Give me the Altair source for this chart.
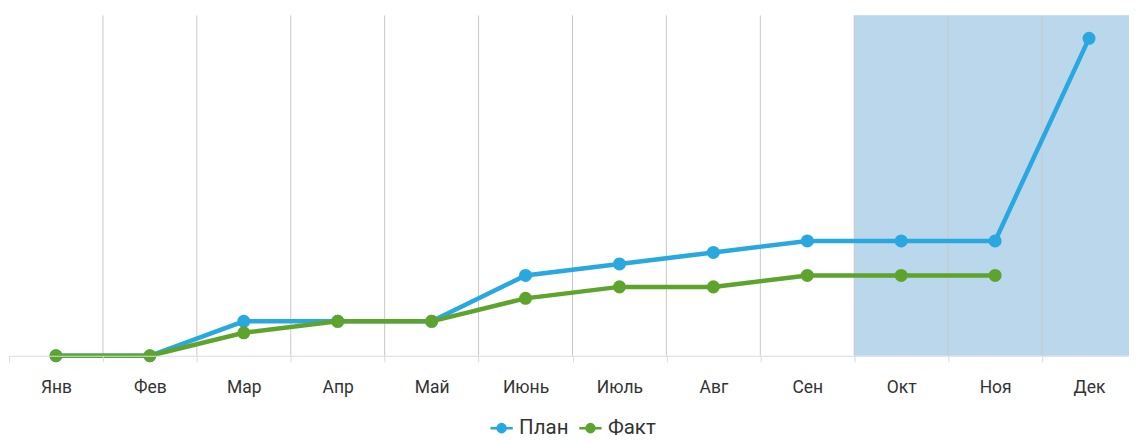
import altair as alt
import pandas as pd

months = ["Янв", "Фев", "Мар", "Апр", "Май", "Июнь", "Июль", "Авг", "Сен", "Окт", "Ноя", "Дек"]
plan = [0, 0, 3, 3, 3, 7, 8, 9, 10, 10, 10, 27.65]
fact = [0, 0, 2, 3, 3, 5, 6, 6, 7, 7, 7, None]
highlight_months = ["Окт", "Ноя", "Дек"]
series_names = ["План", "Факт"]
series_colors = ["#29A8E0", "#5EA42C"]

rows = []
for m, p, f in zip(months, plan, fact):
    rows.append({"month": m, "series": "План", "value": p})
    if f is not None:
        rows.append({"month": m, "series": "Факт", "value": f})
df = pd.DataFrame(rows)

W, H = 1129, 341
xscale = alt.Scale(domain=months, paddingInner=0, paddingOuter=0)
yscale = alt.Scale(domain=[0, 29.65], nice=False, zero=True)
cscale = alt.Scale(domain=series_names, range=series_colors)

x_axis = alt.Axis(title=None, tickBand="extent", grid=False, domainColor="#D3DCE6",
                  tickColor="#D3DCE6", tickSize=6, labelFontSize=17.5, labelColor="#333333",
                  labelFont="Roboto", labelPadding=16.5, domainWidth=1, labelAngle=0)

legend = alt.Legend(title=None, orient="none", direction="horizontal", legendX=481, legendY=401,
                    symbolType="M-1,0L1,0M-0.36,0A0.36,0.36 0 1,0 0.36,0A0.36,0.36 0 1,0 -0.36,0",
                    symbolSize=500, symbolStrokeWidth=2.5, labelFontSize=20.5, labelFont="Roboto",
                    labelColor="#333333", columnPadding=5, labelOffset=5)

hl = alt.Chart(pd.DataFrame({"month": highlight_months})).mark_rect(color="#BBD7EB").encode(
    x=alt.X("month:N", scale=xscale, axis=x_axis, sort=months),
    y=alt.value(0), y2=alt.value(H),
)

grid = alt.Chart(pd.DataFrame({"month": months[1:]})).mark_rule(color="#C8C8C8", strokeWidth=1).encode(
    x=alt.X("month:N", scale=xscale, sort=months, bandPosition=0),
    y=alt.value(0), y2=alt.value(H),
)

lines = alt.Chart(df).mark_line(strokeWidth=4.5).encode(
    x=alt.X("month:N", scale=xscale, sort=months),
    y=alt.Y("value:Q", scale=yscale, axis=None),
    stroke=alt.Stroke("series:N", scale=cscale, legend=legend),
    detail="series:N",
)

points = alt.Chart(df).mark_point(filled=True, size=170, opacity=1, strokeWidth=0).encode(
    x=alt.X("month:N", scale=xscale, sort=months),
    y=alt.Y("value:Q", scale=yscale, axis=None),
    fill=alt.Fill("series:N", scale=cscale, legend=legend),
    stroke=alt.Stroke("series:N", scale=cscale, legend=legend),
)

chart = alt.layer(hl, grid, lines, points).properties(
    width=W, height=H,
    padding={"left": 0, "top": 6, "right": -8, "bottom": 0},
).configure_view(stroke=None).configure_point(shape="circle")

chart.save("out.html", embed_options={"renderer": "svg", "actions": False})
